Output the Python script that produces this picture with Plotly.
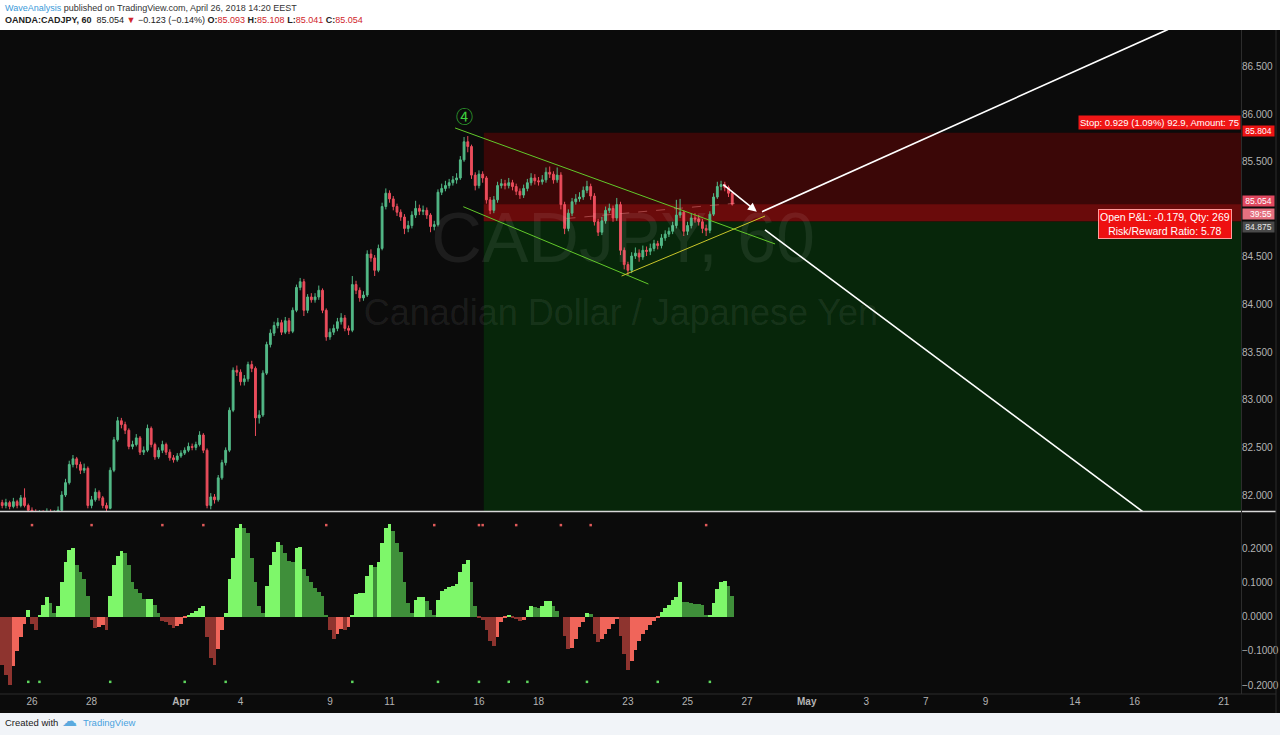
import plotly.graph_objects as go

# ---------------- data (3-hour bars, bar 0 = Mar 23 00:00) ----------------
closes = [81.89, 81.92, 81.88, 81.93, 81.89, 81.97, 81.89, 81.84, 81.82, 81.79,
          81.81, 81.80, 81.82, 81.79, 81.81, 81.84, 82.00, 82.13, 82.32, 82.38,
          82.32, 82.26, 82.28, 81.89, 81.95, 82.03, 81.97, 81.89, 81.86, 82.26,
          82.58, 82.78, 82.74, 82.68, 82.51, 82.53, 82.60, 82.45, 82.47, 82.70,
          82.53, 82.40, 82.47, 82.53, 82.45, 82.39, 82.37, 82.41, 82.44, 82.47,
          82.51, 82.50, 82.53, 82.63, 82.47, 81.89, 81.98, 81.95, 82.18, 82.34,
          82.47, 82.89, 83.31, 83.29, 83.19, 83.22, 83.37, 83.33, 82.81, 82.84,
          83.28, 83.58, 83.70, 83.78, 83.81, 83.71, 83.83, 83.72, 83.94, 84.18,
          84.24, 83.94, 84.08, 84.05, 84.08, 84.15, 83.94, 83.66, 83.71, 83.75,
          83.82, 83.86, 83.75, 83.73, 84.21, 84.15, 84.07, 84.10, 84.53, 84.49,
          84.36, 84.59, 85.03, 85.17, 85.11, 85.03, 84.97, 84.92, 84.80, 84.83,
          84.94, 85.01, 84.98, 84.99, 84.94, 84.82, 84.84, 85.18, 85.22, 85.25,
          85.28, 85.31, 85.33, 85.52, 85.71, 85.66, 85.36, 85.25, 85.37, 85.33,
          85.10, 84.99, 85.10, 85.25, 85.27, 85.25, 85.28, 85.24, 85.19, 85.15,
          85.22, 85.28, 85.33, 85.30, 85.29, 85.31, 85.39, 85.37, 85.31, 85.36,
          85.05, 84.80, 84.96, 85.08, 85.11, 85.13, 85.20, 85.24, 85.14, 84.87,
          84.76, 84.88, 84.99, 85.01, 84.91, 85.05, 84.57, 84.42, 84.36, 84.51,
          84.54, 84.50, 84.57, 84.56, 84.59, 84.64, 84.62, 84.70, 84.74, 84.77,
          84.83, 84.94, 84.97, 84.77, 84.83, 84.91, 84.90, 84.87, 84.80, 84.78,
          84.95, 85.13, 85.24, 85.26, 85.23, 85.17, 85.054]

highs = [81.95, 81.96, 81.94, 81.97, 81.95, 82.00, 82.07, 81.91, 81.87, 81.85,
         81.84, 81.84, 81.86, 81.85, 81.84, 81.88, 82.04, 82.17, 82.36, 82.42,
         82.40, 82.35, 82.33, 82.30, 81.99, 82.07, 82.05, 81.99, 81.92, 82.29,
         82.61, 82.82, 82.81, 82.77, 82.70, 82.57, 82.64, 82.62, 82.51, 82.74,
         82.72, 82.55, 82.50, 82.57, 82.55, 82.48, 82.42, 82.44, 82.47, 82.50,
         82.55, 82.54, 82.56, 82.67, 82.65, 82.49, 82.02, 82.01, 82.21, 82.37,
         82.50, 82.92, 83.34, 83.36, 83.32, 83.26, 83.40, 83.41, 83.35, 82.89,
         83.31, 83.61, 83.74, 83.82, 83.86, 83.84, 83.87, 83.86, 83.97, 84.21,
         84.28, 84.27, 84.11, 84.12, 84.12, 84.20, 84.17, 83.96, 83.75, 83.79,
         83.86, 83.91, 83.89, 83.78, 84.30, 84.25, 84.18, 84.14, 84.57, 84.58,
         84.52, 84.63, 85.07, 85.22, 85.20, 85.14, 85.06, 85.00, 84.95, 84.88,
         84.98, 85.09, 85.05, 85.04, 85.02, 84.96, 84.88, 85.21, 85.27, 85.30,
         85.32, 85.35, 85.38, 85.56, 85.76, 85.77, 85.68, 85.39, 85.41, 85.40,
         85.35, 85.13, 85.14, 85.29, 85.32, 85.31, 85.33, 85.31, 85.27, 85.22,
         85.26, 85.32, 85.38, 85.37, 85.34, 85.36, 85.44, 85.45, 85.40, 85.44,
         85.39, 85.08, 85.00, 85.12, 85.16, 85.18, 85.24, 85.30, 85.27, 85.17,
         84.90, 84.92, 85.03, 85.06, 85.04, 85.12, 85.08, 84.60, 84.45, 84.55,
         84.60, 84.58, 84.62, 84.61, 84.64, 84.68, 84.67, 84.74, 84.78, 84.81,
         84.87, 85.10, 85.11, 84.99, 84.87, 84.96, 84.96, 84.94, 84.90, 84.84,
         84.98, 85.17, 85.29, 85.30, 85.29, 85.25, 85.19]

lows = [81.86, 81.86, 81.85, 81.86, 81.86, 81.87, 81.87, 81.81, 81.78, 81.76,
        81.77, 81.77, 81.78, 81.76, 81.77, 81.79, 81.82, 81.98, 82.11, 82.29,
        82.28, 82.22, 82.23, 81.86, 81.86, 81.93, 81.94, 81.86, 81.83, 81.85,
        82.24, 82.56, 82.70, 82.64, 82.48, 82.48, 82.51, 82.42, 82.42, 82.45,
        82.50, 82.37, 82.38, 82.44, 82.42, 82.36, 82.34, 82.35, 82.39, 82.42,
        82.45, 82.47, 82.47, 82.51, 82.44, 81.86, 81.85, 81.91, 81.93, 82.16,
        82.31, 82.45, 82.87, 83.25, 83.15, 83.15, 83.19, 83.29, 82.62, 82.75,
        82.82, 83.26, 83.55, 83.67, 83.75, 83.68, 83.69, 83.69, 83.70, 83.92,
        84.15, 83.88, 83.91, 84.02, 84.02, 84.05, 83.91, 83.62, 83.63, 83.68,
        83.72, 83.79, 83.72, 83.68, 83.71, 84.11, 84.03, 84.04, 84.08, 84.45,
        84.30, 84.34, 84.57, 85.00, 85.07, 84.99, 84.93, 84.88, 84.74, 84.76,
        84.80, 84.91, 84.94, 84.94, 84.90, 84.76, 84.78, 84.82, 85.15, 85.19,
        85.22, 85.25, 85.27, 85.31, 85.50, 85.60, 85.32, 85.20, 85.22, 85.28,
        85.06, 84.95, 84.96, 85.07, 85.22, 85.21, 85.22, 85.20, 85.15, 85.11,
        85.12, 85.19, 85.25, 85.26, 85.25, 85.26, 85.28, 85.33, 85.27, 85.28,
        85.00, 84.74, 84.77, 84.93, 85.05, 85.08, 85.10, 85.17, 85.10, 84.83,
        84.72, 84.73, 84.85, 84.96, 84.87, 84.88, 84.52, 84.37, 84.31, 84.33,
        84.48, 84.45, 84.47, 84.51, 84.52, 84.56, 84.58, 84.59, 84.67, 84.71,
        84.74, 84.80, 84.91, 84.72, 84.73, 84.80, 84.86, 84.83, 84.75, 84.72,
        84.75, 84.93, 85.11, 85.20, 85.19, 85.13, 85.04]

first_open = 81.92
opens = [first_open] + closes[:-1]

momentum = [-0.14, -0.17, -0.20, -0.145, -0.10, -0.06, -0.02, 0.02, -0.02, -0.04,
            0.005, 0.035, 0.058, 0.04, 0.01, 0.03, 0.10, 0.16, 0.195, 0.20,
            0.15, 0.13, 0.11, 0.06, -0.01, -0.034, -0.03, -0.024, -0.04, 0.06,
            0.15, 0.178, 0.192, 0.185, 0.15, 0.10, 0.08, 0.068, 0.052, 0.053,
            0.053, 0.035, 0.01, -0.012, -0.015, -0.025, -0.034, -0.028, -0.02, -0.005,
            0.006, 0.01, 0.016, 0.024, 0.03, -0.06, -0.12, -0.14, -0.095, -0.04,
            0.01, 0.11, 0.17, 0.26, 0.27, 0.258, 0.243, 0.17, 0.10, 0.03,
            0.01, 0.09, 0.15, 0.19, 0.219, 0.21, 0.185, 0.162, 0.16, 0.20,
            0.204, 0.14, 0.12, 0.10, 0.085, 0.073, 0.06, 0.005, -0.039, -0.065,
            -0.05, -0.036, -0.04, -0.03, 0.005, 0.065, 0.068, 0.07, 0.12, 0.15,
            0.145, 0.16, 0.215, 0.26, 0.27, 0.25, 0.214, 0.19, 0.10, 0.04,
            0.01, 0.05, 0.058, 0.058, 0.045, 0.02, 0.004, 0.05, 0.075, 0.08,
            0.087, 0.09, 0.095, 0.13, 0.155, 0.165, 0.10, 0.03, -0.005, -0.01,
            -0.04, -0.07, -0.085, -0.06, -0.015, -0.003, 0.005, -0.003, -0.008, -0.013,
            -0.01, 0.02, 0.03, 0.027, 0.026, 0.03, 0.045, 0.045, 0.03, 0.018,
            0.0, -0.055, -0.095, -0.09, -0.065, -0.03, -0.015, 0.01, 0.008, -0.05,
            -0.075, -0.065, -0.05, -0.037, -0.02, -0.008, -0.055, -0.11, -0.155, -0.13,
            -0.097, -0.07, -0.05, -0.038, -0.025, -0.014, -0.002, 0.015, 0.026, 0.035,
            0.049, 0.057, 0.10, 0.044, 0.042, 0.04, 0.038, 0.036, 0.033, 0.005,
            0.005, 0.04, 0.08, 0.10, 0.105, 0.09, 0.06]

squeeze_on_bars = [8, 24, 43, 54, 87, 116, 128, 129, 138, 150, 158, 189]
squeeze_off_bars = [7, 10, 29, 49, 60, 94, 117, 128, 136, 141, 157, 176, 190]

tick_bars = [8, 24, 48, 64, 88, 104, 128, 144, 168, 184, 200, 216, 232, 248, 264, 288, 304, 328]
tick_labels = ['26', '28', '<b>Apr</b>', '4', '9', '11', '16', '18', '23', '25', '27',
               '<b>May</b>', '3', '7', '9', '14', '16', '21']
# 85.000 is hidden behind the price labels in the original, so it is not listed
price_ticks = [82.0, 82.5, 83.0, 83.5, 84.0, 84.5, 85.5, 86.0, 86.5]
momentum_ticks = [-0.2, -0.1, 0.0, 0.1, 0.2]

entry_price = 84.875
stop_price = 85.804
last_price = 85.054
entry_bar = 129.3

bars = list(range(len(closes)))

# ---------------- helpers for pixel placement ----------------
W, H = 1280, 735
def px(x):
    return x / W
def py(y):
    return 1 - y / H

BG = '#0b0b0b'
UP = '#53b987'
DN = '#eb4d5c'

fig = go.Figure()

# watermark (under the candles)
fig.add_trace(go.Scatter(
    x=[166.7, 166.1], y=[84.63, 83.88], mode='text',
    text=['CADJPY, 60', 'Canadian Dollar / Japanese Yen'],
    textfont=dict(size=[70, 36], color='rgba(255,255,255,0.075)', family='Liberation Sans, Arial'),
    hoverinfo='skip', showlegend=False, xaxis='x', yaxis='y'))

fig.add_trace(go.Candlestick(
    x=bars, open=opens, high=highs, low=lows, close=closes,
    increasing=dict(line=dict(color=UP, width=1), fillcolor=UP),
    decreasing=dict(line=dict(color=DN, width=1), fillcolor=DN),
    whiskerwidth=0, showlegend=False, xaxis='x', yaxis='y'))

# momentum histogram colours
mcols = []
for i, v in enumerate(momentum):
    prev = momentum[i - 1] if i > 0 else v
    if v >= 0:
        mcols.append('#7ef76a' if v >= prev else '#3f8f3a')
    else:
        mcols.append('#8e342f' if v <= prev else '#f0655a')

fig.add_trace(go.Bar(
    x=bars, y=momentum, marker=dict(color=mcols, line=dict(width=0)),
    width=1.0, showlegend=False, xaxis='x2', yaxis='y2', hoverinfo='skip'))

fig.add_trace(go.Scatter(
    x=squeeze_on_bars, y=[0.267] * len(squeeze_on_bars), mode='markers',
    marker=dict(color='#e05a5a', size=2.5, symbol='square'),
    showlegend=False, xaxis='x2', yaxis='y2', hoverinfo='skip'))
fig.add_trace(go.Scatter(
    x=squeeze_off_bars, y=[-0.19] * len(squeeze_off_bars), mode='markers',
    marker=dict(color='#5ed65e', size=2.5, symbol='square'),
    showlegend=False, xaxis='x2', yaxis='y2', hoverinfo='skip'))

XR = [-0.59, 332.6]
shapes = [
    # dark chart background
    dict(type='rect', xref='paper', yref='paper', x0=0, x1=1, y0=py(713), y1=py(30),
         fillcolor=BG, line=dict(width=0), layer='below'),
    # footer
    dict(type='rect', xref='paper', yref='paper', x0=0, x1=1, y0=0, y1=py(713),
         fillcolor='#f1f4f8', line=dict(width=0), layer='below'),
    # position zones
    dict(type='rect', xref='x', yref='y', x0=entry_bar, x1=XR[1], y0=80.0, y1=entry_price,
         fillcolor='#07260a', line=dict(width=0), layer='below'),
    dict(type='rect', xref='x', yref='y', x0=entry_bar, x1=XR[1], y0=entry_price, y1=stop_price,
         fillcolor='#3b0707', line=dict(width=0), layer='below'),
    dict(type='rect', xref='x', yref='y', x0=entry_bar, x1=XR[1], y0=entry_price, y1=last_price,
         fillcolor='#6a0b0b', line=dict(width=0), layer='below'),
    # channel lines
    dict(type='line', xref='x', yref='y', x0=121.6, y0=85.855, x1=207.5, y1=84.637,
         line=dict(color='#62c92a', width=1)),
    dict(type='line', xref='x', yref='y', x0=123.8, y0=85.028, x1=173.5, y1=84.216,
         line=dict(color='#62c92a', width=1)),
    dict(type='line', xref='x', yref='y', x0=166.3, y0=84.30, x1=204.8, y1=84.93,
         line=dict(color='#c9c62a', width=1)),
    # projection lines
    dict(type='line', xref='x', yref='y', x0=204.0, y0=84.976, x1=313.0, y1=86.89,
         line=dict(color='#ffffff', width=1.6)),
    dict(type='line', xref='x', yref='y', x0=204.8, y0=84.784, x1=306.4, y1=81.82,
         line=dict(color='#ffffff', width=1.6)),
    # dashed position link
    dict(type='line', xref='x', yref='y', x0=151.5, y0=84.904, x1=196.7, y1=85.064,
         line=dict(color='rgba(240,140,140,0.45)', width=1, dash='dash')),
    # pane separator and borders
    dict(type='line', xref='paper', yref='paper', x0=0, x1=px(1276), y0=py(511.5), y1=py(511.5),
         line=dict(color='#d8d8d8', width=1.5)),
    dict(type='line', xref='paper', yref='paper', x0=0, x1=px(1276), y0=py(694), y1=py(694),
         line=dict(color='#2c2c2c', width=1)),
    dict(type='line', xref='paper', yref='paper', x0=px(1241.5), x1=px(1241.5), y0=py(694), y1=py(30),
         line=dict(color='#2c2c2c', width=1)),
    dict(type='line', xref='paper', yref='paper', x0=px(1276), x1=px(1276), y0=py(713), y1=py(30),
         line=dict(color='#2c2c2c', width=1)),
]

RED = '#d0262c'
hdr1 = ("<span style='color:#3a9ad9'>WaveAnalysis</span>"
        " published on TradingView.com, April 26, 2018 14:20 EEST")
hdr2 = ("<b>OANDA:CADJPY, 60</b>  85.054 <span style='color:%s'>▼</span> −0.123 (−0.14%%) "
        "<b>O:</b><span style='color:%s'>85.093</span> <b>H:</b><span style='color:%s'>85.108</span> "
        "<b>L:</b><span style='color:%s'>85.041</span> <b>C:</b><span style='color:%s'>85.054</span>"
        % (RED, RED, RED, RED, RED))

TF = 'Liberation Sans, Arial'
annotations = [
    dict(xref='paper', yref='paper', x=px(3), y=py(8), xanchor='left', yanchor='middle',
         text=hdr1, showarrow=False, font=dict(size=9, color='#333333', family=TF)),
    dict(xref='paper', yref='paper', x=px(3), y=py(20), xanchor='left', yanchor='middle',
         text=hdr2, showarrow=False, font=dict(size=9, color='#222222', family=TF)),
    dict(xref='paper', yref='paper', x=px(3), y=py(722), xanchor='left', yanchor='middle',
         text='Created with', showarrow=False, font=dict(size=9.5, color='#222222', family=TF)),
    dict(xref='paper', yref='paper', x=px(60), y=py(721), xanchor='left', yanchor='middle',
         text='☁', showarrow=False, font=dict(size=15, color='#5aa9de', family='DejaVu Sans')),
    dict(xref='paper', yref='paper', x=px(81), y=py(722), xanchor='left', yanchor='middle',
         text='TradingView', showarrow=False, font=dict(size=9.5, color='#4aa3df', family=TF)),
    # wave label
    dict(xref='x', yref='y', x=124.2, y=85.99, text='④', showarrow=False,
         font=dict(size=17, color='#3fd13f', family='Noto Sans CJK SC')),
    # arrow
    dict(xref='x', yref='y', x=202.6, y=84.976, ax=193.2, ay=85.274, axref='x', ayref='y',
         text='', showarrow=True, arrowhead=2, arrowsize=1.1, arrowwidth=1.6, arrowcolor='#ffffff'),
    # position labels
    dict(xref='paper', yref='paper', x=px(1241), y=py(122.5), xanchor='right', yanchor='middle',
         text='Stop: 0.929 (1.09%) 92.9, Amount: 75', showarrow=False, bgcolor='#f01616',
         borderpad=1, font=dict(size=9.5, color='#ffffff', family=TF)),
    dict(xref='paper', yref='paper', x=px(1165), y=py(224.5), xanchor='center', yanchor='middle',
         text='Open P&L: -0.179, Qty: 269<br>Risk/Reward Ratio: 5.78', showarrow=False,
         bgcolor='#ee1010', bordercolor='#ff9c9c', borderwidth=1, borderpad=1,
         font=dict(size=10.5, color='#ffffff', family=TF)),
    # price-scale labels
    dict(xref='paper', yref='paper', x=px(1242), y=py(131), xanchor='left', yanchor='middle',
         text=' 85.804 ', showarrow=False, bgcolor='#ec1414', borderpad=0,
         font=dict(size=8.5, color='#ffffff', family=TF)),
    dict(xref='paper', yref='paper', x=px(1242), y=py(200.5), xanchor='left', yanchor='middle',
         text=' 85.054 ', showarrow=False, bgcolor='#e04860', borderpad=0,
         font=dict(size=8.5, color='#ffffff', family=TF)),
    dict(xref='paper', yref='paper', x=px(1242), y=py(213.8), xanchor='left', yanchor='middle',
         text='   39:55 ', showarrow=False, bgcolor='#e5707f', borderpad=0,
         font=dict(size=8.5, color='#ffffff', family=TF)),
    dict(xref='paper', yref='paper', x=px(1242), y=py(227), xanchor='left', yanchor='middle',
         text=' 84.875 ', showarrow=False, bgcolor='#4a4a4a', borderpad=0,
         font=dict(size=8.5, color='#e8e8e8', family=TF)),
]

AXF = dict(size=10, color='#b4b4b4', family='Liberation Sans Narrow, Liberation Sans, Arial')
fig.update_layout(
    width=W, height=H, autosize=False,
    margin=dict(l=0, r=0, t=0, b=0),
    paper_bgcolor='#ffffff', plot_bgcolor=BG,
    showlegend=False, bargap=0,
    shapes=shapes, annotations=annotations,
    xaxis=dict(domain=[0, px(1241)], range=XR, anchor='y', showticklabels=False,
               showgrid=False, zeroline=False, rangeslider=dict(visible=False), fixedrange=True),
    xaxis2=dict(domain=[0, px(1241)], range=XR, anchor='y2', matches='x',
                tickmode='array', tickvals=tick_bars, ticktext=tick_labels,
                tickfont=AXF, showgrid=False, zeroline=False, ticks=''),
    yaxis=dict(domain=[py(511), py(30)], range=[81.832, 86.884], side='right', anchor='x',
               tickmode='array', tickvals=price_ticks,
               tickformat='.3f', tickfont=AXF, showgrid=False, zeroline=False, ticks=''),
    yaxis2=dict(domain=[py(694), py(512)], range=[-0.2254, 0.3052], side='right', anchor='x2',
                tickmode='array', tickvals=momentum_ticks,
                tickformat='.4f', tickfont=AXF, showgrid=False, zeroline=False, ticks=''),
)

fig.write_html('out.html', config=dict(displayModeBar=False),
               post_script="document.body.style.margin='0px';document.body.style.overflow='hidden';")
